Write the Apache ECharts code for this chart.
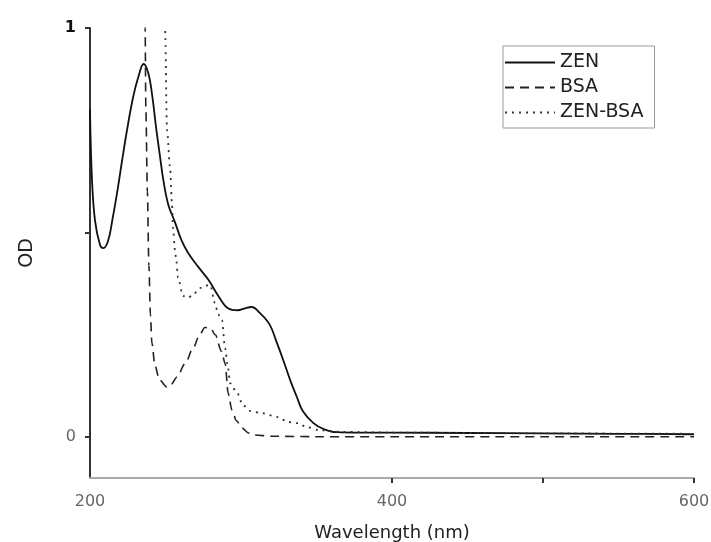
<!DOCTYPE html>
<html><head><meta charset="utf-8">
<script src="https://cdn.jsdelivr.net/npm/echarts@6/dist/echarts.min.js"></script>
<style>html,body{margin:0;padding:0;background:#fff}#c{width:711px;height:542px}</style>
</head><body><div id="c"></div>
<script>
// ZEN (solid)
const zenX = [200, 201.3, 203.3, 206.6, 208.8, 212, 215, 218.5, 221, 224.5, 228.5, 232, 235.5, 238.6, 241, 244, 246.4, 248.5, 251.7, 256.3, 260.7, 265, 271.7, 278.3, 285, 291.4, 298, 302, 307, 312.6, 319, 323.6, 328, 332.5, 337, 341, 348, 354.5, 363, 380, 400, 450, 500, 550, 600];
const zenY = [0.80, 0.63, 0.53, 0.47, 0.462, 0.48, 0.535, 0.61, 0.67, 0.75, 0.83, 0.88, 0.912, 0.89, 0.84, 0.75, 0.685, 0.63, 0.57, 0.525, 0.48, 0.45, 0.416, 0.385, 0.345, 0.315, 0.31, 0.314, 0.318, 0.303, 0.275, 0.232, 0.188, 0.14, 0.098, 0.063, 0.034, 0.02, 0.012, 0.011, 0.011, 0.01, 0.009, 0.008, 0.007];
// BSA (dashed)
const bsaX = [233, 235.5, 236.5, 237, 238, 239, 240, 241, 243, 246, 251, 254, 257.6, 263, 268.4, 272, 276, 280, 283, 287, 289.5, 291.5, 294, 297, 300.7, 305, 309, 320, 350, 400, 500, 600];
const bsaY = [1.6, 1.15, 1.0, 0.8, 0.6, 0.42, 0.3, 0.23, 0.175, 0.14, 0.122, 0.13, 0.147, 0.18, 0.218, 0.245, 0.268, 0.265, 0.25, 0.21, 0.18, 0.107, 0.066, 0.04, 0.022, 0.01, 0.005, 0.002, 0.001, 0.001, 0.001, 0.001];
// ZEN-BSA (dotted)
const zbX = [248, 249.7, 251, 253, 254.3, 255, 256.3, 257, 258.3, 261.6, 264.5, 267.5, 272.8, 276, 279.5, 282.8, 284.8, 287.4, 289.4, 291.4, 292.7, 297.4, 301.3, 306, 313, 324.5, 331, 337.7, 343.7, 352, 365, 400, 500, 600];
const zbY = [1.3, 1.0, 0.75, 0.66, 0.57, 0.51, 0.457, 0.437, 0.39, 0.345, 0.34, 0.345, 0.364, 0.37, 0.372, 0.328, 0.30, 0.286, 0.218, 0.171, 0.132, 0.108, 0.078, 0.064, 0.059, 0.049, 0.037, 0.034, 0.024, 0.017, 0.013, 0.011, 0.009, 0.008];
const seriesNames = ['ZEN', 'BSA', 'ZEN-BSA'];
const xTickValues = [400, 500, 600];
const xLabelValues = [200, 400, 600];
const yTickValues = [0, 0.5, 1];
const yLabelValues = [0, 1];

const pairs = (xs, ys) => xs.map((x, i) => [x, ys[i]]);
const FONT = 'DejaVu Sans';
const chart = echarts.init(document.getElementById('c'), null, {renderer: 'canvas'});
chart.setOption({
  animation: false,
  backgroundColor: '#fff',
  grid: {left: 90, right: 17, top: 28, bottom: 64, containLabel: false, outerBoundsMode: 'none'},
  xAxis: {
    type: 'value', min: 200, max: 600, interval: 200,
    axisLine: {onZero: false, lineStyle: {color: '#aaa', width: 2}},
    axisTick: {customValues: xTickValues, length: 5, lineStyle: {color: '#333', width: 2}},
    axisLabel: {customValues: xLabelValues, color: '#666', fontSize: 16, fontFamily: FONT, margin: 16},
    splitLine: {show: false},
    name: 'Wavelength (nm)', nameLocation: 'middle', nameGap: 46,
    nameTextStyle: {color: '#222', fontSize: 18, fontFamily: FONT}
  },
  yAxis: {
    type: 'value', min: -0.1, max: 1,
    axisLine: {show: true, onZero: false, lineStyle: {color: '#333', width: 2}},
    axisTick: {show: true, customValues: yTickValues, length: 5, lineStyle: {color: '#333', width: 2}},
    axisLabel: {customValues: yLabelValues, fontSize: 16, fontFamily: FONT, margin: 14,
      formatter: v => v === 1 ? '{d|1}' : '{g|' + v + '}',
      rich: {d: {color: '#111', fontSize: 16, fontFamily: FONT, fontWeight: 'bold'}, g: {color: '#666', fontSize: 16, fontFamily: FONT}}},
    splitLine: {show: false},
    name: 'OD', nameLocation: 'middle', nameGap: 53, nameRotate: 90,
    nameTextStyle: {color: '#222', fontSize: 19, fontFamily: FONT}
  },
  legend: {
    data: seriesNames, orient: 'vertical', left: 503, top: 46,
    itemWidth: 50, itemHeight: 12, itemGap: 6,
    padding: [7, 11, 6, 1],
    borderColor: '#999', borderWidth: 1,
    itemStyle: {opacity: 0},
    textStyle: {color: '#222', fontSize: 19, fontFamily: FONT}
  },
  series: [
    {name: seriesNames[0], type: 'line', data: pairs(zenX, zenY), symbol: 'none',
     smooth: 0.4, lineStyle: {color: '#111', width: 1.8, type: 'solid'}, itemStyle: {color: '#111'}},
    {name: seriesNames[1], type: 'line', data: pairs(bsaX, bsaY), symbol: 'none',
     smooth: 0.3, smoothMonotone: 'x', lineStyle: {color: '#222', width: 1.6, type: [9, 6]}, itemStyle: {color: '#222'}},
    {name: seriesNames[2], type: 'line', data: pairs(zbX, zbY), symbol: 'none',
     smooth: 0.3, smoothMonotone: 'x', lineStyle: {color: '#333', width: 1.8, type: [2, 5]}, itemStyle: {color: '#333'}}
  ]
});
</script></body></html>
